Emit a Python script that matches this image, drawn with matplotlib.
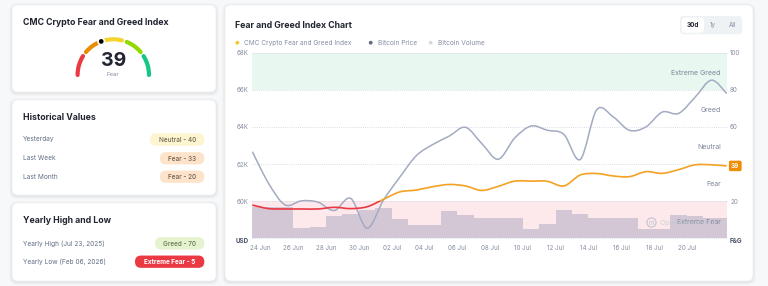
import numpy as np
import pandas as pd
import matplotlib
matplotlib.use('Agg')
import matplotlib.pyplot as plt
import matplotlib.dates as mdates
import matplotlib.transforms as mtransforms
from matplotlib.patches import FancyBboxPatch, Arc, Circle, Rectangle, PathPatch
from matplotlib.path import Path

plt.rcParams['font.family'] = ['Inter', 'DejaVu Sans']

# ---------------- data ----------------
point_times = list(pd.date_range('2025-06-23 12:00', '2025-07-21 12:00', freq='D')) + \
    [pd.Timestamp('2025-07-22 10:20')]
btc_price = [62670, 60950, 59800, 60020, 59950, 59500, 60150, 58540, 60060, 61300,
             62450, 63050, 63500, 63980, 63100, 62260, 63400, 64050, 63820, 63600,
             62250, 64920, 64550, 63820, 64000, 64800, 64730, 65600, 66520, 65800]
fear_greed = [17.9, 16.0, 15.8, 15.8, 15.8, 16.7, 16.0, 17.0, 21.0, 25.0,
              26.0, 27.8, 29.0, 28.2, 25.8, 28.0, 30.8, 30.8, 30.7, 28.2,
              34.1, 34.9, 33.6, 33.2, 35.9, 35.0, 37.0, 39.6, 39.6, 39.0]
volume_days = pd.date_range('2025-06-23', '2025-07-22', freq='D')
btc_volume_bn = [42.2, 42.2, 42.0, 13.9, 15.6, 30.4, 32.7, 38.1, 40.4, 26.0,
                 17.9, 17.9, 36.8, 31.4, 27.7, 26.7, 27.3, 13.2, 18.6, 38.1,
                 32.1, 26.9, 26.9, 26.9, 12.9, 12.9, 31.1, 30.3, 27.1, 27.1]
date_ticks = pd.date_range('2025-06-24', '2025-07-20', freq='2D')
date_labels = ['24 Jun', '26 Jun', '28 Jun', '30 Jun', '02 Jul', '04 Jul', '06 Jul',
               '08 Jul', '10 Jul', '12 Jul', '14 Jul', '16 Jul', '18 Jul', '20 Jul']
price_ticks = [58000, 60000, 62000, 64000, 66000, 68000]
price_labels = ['USD', '60K', '62K', '64K', '66K', '68K']
fg_ticks = [0, 20, 40, 60, 80, 100]
fg_labels = ['F&G', '20', '40', '60', '80', '100']
zone_names = ['Extreme Fear', 'Fear', 'Neutral', 'Greed', 'Extreme Greed']
zone_label_levels = [9, 29, 49, 69, 89]
zone_bounds = [0, 20, 40, 60, 80, 100]
zone_colors = ['#ea3943', '#ea8c00', '#f3d42f', '#93d900', '#16c784']

current_value = 39
current_label = 'Fear'
hist_names = ['Yesterday', 'Last Week', 'Last Month']
hist_values = ['Neutral - 40', 'Fear - 33', 'Fear - 20']
yearly_names = ['Yearly High (Jul 23, 2025)', 'Yearly Low (Feb 06, 2026)']
yearly_values = ['Greed - 70', 'Extreme Fear - 5']
legend_names = ['CMC Crypto Fear and Greed Index', 'Bitcoin Price', 'Bitcoin Volume']
range_buttons = ['30d', '1y', 'All']

# ---------------- styles ----------------
DARK = '#222531'
GRAY = '#616e85'
LIGHT = '#858ea2'
PRICE_C = '#a3abc2'
ORANGE = '#f4a124'
RED = '#ea3943'


def smooth_path(x, y):
    x = np.asarray(x, float)
    y = np.asarray(y, float)
    n = len(x)
    verts = [(x[0], y[0])]
    codes = [Path.MOVETO]
    for i in range(n - 1):
        x0, y0 = (x[i - 1], y[i - 1]) if i > 0 else (x[i], y[i])
        x3, y3 = (x[i + 2], y[i + 2]) if i + 2 < n else (x[i + 1], y[i + 1])
        c1 = (x[i] + (x[i + 1] - x0) / 6, y[i] + (y[i + 1] - y0) / 6)
        c2 = (x[i + 1] - (x3 - x[i]) / 6, y[i + 1] - (y3 - y[i]) / 6)
        verts += [c1, c2, (x[i + 1], y[i + 1])]
        codes += [Path.CURVE4] * 3
    return Path(verts, codes)


fig = plt.figure(figsize=(7.68, 2.86), dpi=100)
fig.patch.set_facecolor('#f7f8fa')

bg = fig.add_axes([0, 0, 1, 1])
bg.set_xlim(0, 768)
bg.set_ylim(286, 0)
bg.axis('off')


def card(x0, y0, x1, y1):
    for k, a in [(3, 0.02), (2, 0.025), (1, 0.035)]:
        bg.add_patch(FancyBboxPatch((x0 - k, y0 - k + 1), x1 - x0 + 2 * k, y1 - y0 + 2 * k,
                                    boxstyle=f'round,pad=0,rounding_size={6 + k}',
                                    fc='#1e2329', ec='none', alpha=a))
    bg.add_patch(FancyBboxPatch((x0, y0), x1 - x0, y1 - y0,
                                boxstyle='round,pad=0,rounding_size=6',
                                fc='white', ec='#eef0f3', lw=0.5))


def pill(xr, yc, w, text, fc, tc, bold=False):
    h = 12.3
    bg.add_patch(FancyBboxPatch((xr - w, yc - h / 2), w, h,
                                boxstyle='round,pad=0,rounding_size=6', fc=fc, ec='none'))
    bg.text(xr - w / 2, yc + 0.3, text, ha='center', va='center', fontsize=4.6,
            color=tc, fontweight='bold' if bold else 'medium')


card(12, 5, 216, 92)
card(12, 100, 216, 195)
card(12, 203, 216, 281)
card(225, 5, 753, 281)

# ---- gauge card ----
bg.text(23, 22.7, 'CMC Crypto Fear and Greed Index', ha='left', va='center',
        fontsize=6.3, fontweight='bold', color=DARK)
cx, cy, r = 113.3, 75.0, 35.7
gap = 4
for i, col in enumerate(zone_colors):
    phi_lo = 180 - 1.8 * zone_bounds[i + 1] + (gap if i < 4 else 0)
    phi_hi = 180 - 1.8 * zone_bounds[i] - (gap if i > 0 else 0)
    a = Arc((cx, cy), 2 * r, 2 * r, theta1=360 - phi_hi, theta2=360 - phi_lo,
            color=col, lw=3.0)
    a.set_capstyle('round')
    bg.add_patch(a)
phi = np.deg2rad(180 - 1.8 * current_value)
bg.add_patch(Circle((cx + r * np.cos(phi), cy - r * np.sin(phi)), 3.2,
                    fc='black', ec='white', lw=1.2, zorder=5))
bg.text(cx, 60.5, str(current_value), ha='center', va='center', fontsize=14,
        fontweight='bold', color=DARK)
bg.text(cx, 74.3, current_label, ha='center', va='center', fontsize=4.3, color=LIGHT)

# ---- historical card ----
bg.text(23, 117.7, 'Historical Values', ha='left', va='center', fontsize=6.3,
        fontweight='bold', color=DARK)
hist_y = [139.5, 158.3, 176.7]
hist_w = [54.3, 44.3, 44.3]
hist_fc = ['#fdf4d0', '#fce3c9', '#fce3c9']
hist_tc = ['#706a55', '#735f52', '#735f52']
for name, val, yy, w, fc, tc in zip(hist_names, hist_values, hist_y, hist_w, hist_fc, hist_tc):
    bg.text(23, yy, name, ha='left', va='center', fontsize=4.7, color=GRAY)
    pill(204.3, yy, w, val, fc, tc)

# ---- yearly card ----
bg.text(23, 220.7, 'Yearly High and Low', ha='left', va='center', fontsize=6.3,
        fontweight='bold', color=DARK)
yr_y = [243.3, 261.7]
yr_w = [49.3, 69.3]
yr_fc = ['#e5f4cf', RED]
yr_tc = ['#687a5a', 'white']
for name, val, yy, w, fc, tc, b in zip(yearly_names, yearly_values, yr_y, yr_w, yr_fc, yr_tc, [False, True]):
    bg.text(23, yy, name, ha='left', va='center', fontsize=4.7, color=GRAY)
    pill(204.3, yy, w, val, fc, tc, bold=b)

# ---- chart card header ----
bg.text(235, 25, 'Fear and Greed Index Chart', ha='left', va='center', fontsize=6.3,
        fontweight='bold', color=DARK)
leg_dot_x = [237.3, 370.7, 430.7]
leg_dot_c = ['#f3c92f', '#5f6b85', '#d5d9e1']
for name, xd, c in zip(legend_names, leg_dot_x, leg_dot_c):
    bg.add_patch(Circle((xd, 42.7), 1.9, fc=c, ec='none'))
    bg.text(xd + 7, 42.9, name, ha='left', va='center', fontsize=4.7, color=LIGHT)
bg.add_patch(FancyBboxPatch((680, 16), 62.3, 18.3, boxstyle='round,pad=0,rounding_size=4',
                            fc='#eff2f5', ec='none'))
bg.add_patch(FancyBboxPatch((681.7, 17.6), 22.3, 15.1, boxstyle='round,pad=0,rounding_size=3.5',
                            fc='white', ec='none'))
for lab, xx, b in zip(range_buttons, [692.8, 713.3, 732.3], [True, False, False]):
    bg.text(xx, 25.4, lab, ha='center', va='center', fontsize=4.6,
            fontweight='bold' if b else 'normal', color=DARK if b else LIGHT)

# ---------------- chart axes ----------------
rect = [252.3 / 768, 1 - 238.3 / 286, 474.4 / 768, 185.6 / 286]
t_num = mdates.date2num(point_times)
xmin, xmax = t_num[0], t_num[-1]

ax_base = fig.add_axes(rect)
ax_vol = fig.add_axes(rect)
ax_price = fig.add_axes(rect)
ax_fg = fig.add_axes(rect)
for a in (ax_base, ax_vol, ax_price, ax_fg):
    a.set_xlim(xmin, xmax)
    a.patch.set_visible(False)
    for s in a.spines.values():
        s.set_visible(False)
    a.tick_params(length=0)
    a.set_xticks([])
    a.set_yticks([])

ax_base.set_ylim(0, 100)
ax_base.axhspan(80, 100, color='#e8f7ef', lw=0)
ax_base.axhspan(0, 20, color='#fde9ec', lw=0)
for lv in fg_ticks:
    ax_base.axhline(lv, color='#cdd3df', lw=0.6, ls=(0, (1, 1.6)), clip_on=False)

ax_vol.set_ylim(0, 250)
ax_vol.bar(mdates.date2num(volume_days), btc_volume_bn, width=1, align='edge',
           color='#d4c7d5', lw=0)

ax_price.set_ylim(58000, 68000)
ax_price.add_patch(PathPatch(smooth_path(t_num, btc_price), fill=False,
                             ec=PRICE_C, lw=1.1))
ax_price.set_yticks(price_ticks)
ax_price.set_yticklabels(price_labels)
ax_price.tick_params(axis='y', labelsize=4.5, labelcolor=LIGHT, pad=2.4, left=True, labelleft=True)
lbl = ax_price.get_yticklabels()[0]
lbl.set_fontweight('bold')
lbl.set_color('#4b5468')
lbl.set_va('top')

ax_fg.set_ylim(0, 100)
fg_path = smooth_path(t_num, fear_greed)
low_clip = Rectangle((xmin, -10), xmax - xmin, 30, transform=ax_fg.transData)
high_clip = Rectangle((xmin, 20), xmax - xmin, 90, transform=ax_fg.transData)
p_red = PathPatch(fg_path, fill=False, ec=RED, lw=1.2)
p_org = PathPatch(fg_path, fill=False, ec=ORANGE, lw=1.2)
ax_fg.add_patch(p_red)
ax_fg.add_patch(p_org)
p_red.set_clip_path(low_clip)
p_org.set_clip_path(high_clip)

ax_fg.yaxis.tick_right()
ax_fg.set_yticks(fg_ticks)
ax_fg.set_yticklabels(fg_labels)
ax_fg.tick_params(axis='y', labelsize=4.5, labelcolor=LIGHT, pad=2.4)
fg_tl = ax_fg.get_yticklabels()
fg_tl[0].set_fontweight('bold')
fg_tl[0].set_color('#4b5468')
fg_tl[0].set_va('top')
# the "40" label sits under the current-value tag, as in the reference
fg_tl[fg_ticks.index(40)].set_visible(False)

ax_fg.set_xticks(mdates.date2num(date_ticks))
ax_fg.set_xticklabels(date_labels)
ax_fg.tick_params(axis='x', labelsize=4.5, labelcolor=LIGHT, pad=5)

blend = mtransforms.blended_transform_factory(ax_fg.transAxes, ax_fg.transData)
for name, lv in zip(zone_names, zone_label_levels):
    ax_fg.text(0.9874, lv, name, transform=blend, ha='right', va='center',
               fontsize=5, color='#7d869a', zorder=6)

ax_fg.annotate(str(current_value), xy=(1, fear_greed[-1]), xycoords=blend,
               xytext=(3.2, 0), textcoords='offset points', ha='left', va='center',
               fontsize=4.6, fontweight='bold', color='white', annotation_clip=False,
               bbox=dict(boxstyle='round,pad=0.35,rounding_size=0.25', fc='#f08c00', ec='none'),
               zorder=10)

# watermark overlay
ov = fig.add_axes([0, 0, 1, 1])
ov.set_xlim(0, 768)
ov.set_ylim(286, 0)
ov.axis('off')
ov.add_patch(Circle((651.5, 222.5), 4.6, fc='none', ec='#b9bfcb', lw=0.9, alpha=0.8))
ov.text(651.5, 222.8, 'm', ha='center', va='center', fontsize=4.5, color='#b9bfcb', alpha=0.9)
ov.text(659, 222.8, 'CoinMarketCap', ha='left', va='center', fontsize=5.6,
        color='#c3c8d2', alpha=0.8)

fig.savefig('out.png', dpi=100, facecolor=fig.get_facecolor())
